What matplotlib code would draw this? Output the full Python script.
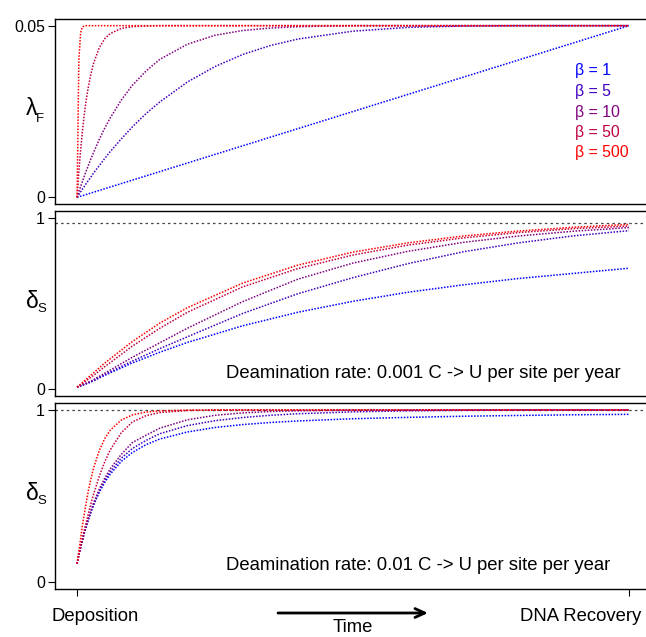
import matplotlib.pyplot as plt
from matplotlib.patches import FancyArrowPatch

plt.rcParams['font.family'] = ['Liberation Sans', 'DejaVu Sans']

# legend labels and colours (blue -> red ramp)
beta_labels = ['β = 1', 'β = 5', 'β = 10', 'β = 50', 'β = 500']
beta_colors = ['#0000FF', '#3F00BF', '#7F007F', '#BF003F', '#FF0000']

# time from deposition (0) to DNA recovery (1)
t_fine = [0, 0.0032, 0.0064, 0.0096, 0.0128, 0.016, 0.02, 0.025, 0.03, 0.04,
          0.05, 0.06, 0.08, 0.1, 0.125, 0.15, 0.2, 0.25, 0.3, 0.35, 0.4,
          0.5, 0.6, 0.7, 0.8, 0.9, 1.0]
t_mid = [0, 0.025, 0.05, 0.1, 0.15, 0.2, 0.3, 0.4, 0.5, 0.6, 0.7, 0.8, 0.9, 1.0]

# top panel: lambda_F
lam_b1 = [0, 0.00016, 0.00032, 0.00048, 0.00064, 0.0008, 0.001, 0.00125, 0.0015, 0.002,
          0.0025, 0.003, 0.004, 0.005, 0.00625, 0.0075, 0.01, 0.0125, 0.015, 0.0175, 0.02,
          0.025, 0.03, 0.035, 0.04, 0.045, 0.05]
lam_b5 = [0, 0.0008, 0.0016, 0.0024, 0.0031, 0.0039, 0.0048, 0.0059, 0.0071, 0.0092,
          0.0113, 0.0133, 0.0170, 0.0205, 0.0244, 0.0278, 0.0336, 0.0381, 0.0416, 0.0442, 0.0461,
          0.0484, 0.0495, 0.0499, 0.05, 0.05, 0.05]
lam_b10 = [0, 0.0016, 0.0031, 0.0046, 0.0060, 0.0075, 0.0091, 0.0112, 0.0131, 0.0168,
           0.0201, 0.0231, 0.0283, 0.0326, 0.0368, 0.0402, 0.0446, 0.0472, 0.0486, 0.0493, 0.0497,
           0.05, 0.05, 0.05, 0.05, 0.05, 0.05]
lam_b50 = [0, 0.0074, 0.0137, 0.0191, 0.0237, 0.0277, 0.0318, 0.0359, 0.0391, 0.0435,
           0.0462, 0.0477, 0.0492, 0.0497, 0.0499, 0.05, 0.05, 0.05, 0.05, 0.05, 0.05,
           0.05, 0.05, 0.05, 0.05, 0.05, 0.05]
lam_b500 = [0, 0.0399, 0.0480, 0.0496, 0.0499, 0.05, 0.05, 0.05, 0.05, 0.05,
            0.05, 0.05, 0.05, 0.05, 0.05, 0.05, 0.05, 0.05, 0.05, 0.05, 0.05,
            0.05, 0.05, 0.05, 0.05, 0.05, 0.05]

# middle panel: delta_S, deamination 0.001
mid_b1 = [0.011, 0.041, 0.080, 0.152, 0.215, 0.272, 0.369, 0.448, 0.512, 0.565, 0.608, 0.645, 0.675, 0.705]
mid_b5 = [0.011, 0.042, 0.084, 0.163, 0.236, 0.305, 0.441, 0.556, 0.650, 0.732, 0.801, 0.853, 0.894, 0.924]
mid_b10 = [0.011, 0.046, 0.092, 0.185, 0.270, 0.355, 0.510, 0.641, 0.735, 0.804, 0.856, 0.893, 0.921, 0.942]
mid_b50 = [0.011, 0.068, 0.130, 0.250, 0.355, 0.448, 0.596, 0.703, 0.782, 0.840, 0.882, 0.913, 0.936, 0.951]
mid_b500 = [0.011, 0.081, 0.151, 0.277, 0.385, 0.475, 0.618, 0.723, 0.799, 0.853, 0.893, 0.922, 0.944, 0.961]

# bottom panel: delta_S, deamination 0.01
bot_b1 = [0.106, 0.155, 0.199, 0.240, 0.279, 0.315, 0.357, 0.404, 0.447, 0.519,
          0.578, 0.626, 0.700, 0.752, 0.798, 0.831, 0.872, 0.898, 0.915, 0.927, 0.936,
          0.949, 0.957, 0.9635, 0.968, 0.972, 0.9745]
bot_b5 = [0.106, 0.154, 0.200, 0.241, 0.281, 0.317, 0.360, 0.408, 0.452, 0.527,
          0.589, 0.640, 0.719, 0.775, 0.823, 0.862, 0.909, 0.9375, 0.956, 0.969, 0.978,
          0.989, 0.995, 0.998, 0.9995, 1.0, 1.0]
bot_b10 = [0.106, 0.154, 0.200, 0.242, 0.282, 0.320, 0.363, 0.413, 0.459, 0.537,
           0.602, 0.657, 0.741, 0.810, 0.853, 0.894, 0.943, 0.969, 0.983, 0.991, 0.9955,
           0.999, 1.0, 1.0, 1.0, 1.0, 1.0]
bot_b50 = [0.106, 0.156, 0.203, 0.250, 0.296, 0.339, 0.391, 0.453, 0.510, 0.612,
           0.697, 0.767, 0.867, 0.930, 0.967, 0.985, 0.997, 0.9995, 1.0, 1.0, 1.0,
           1.0, 1.0, 1.0, 1.0, 1.0, 1.0]
bot_b500 = [0.106, 0.180, 0.250, 0.325, 0.390, 0.450, 0.522, 0.598, 0.663, 0.762,
            0.833, 0.882, 0.941, 0.971, 0.988, 0.995, 0.999, 1.0, 1.0, 1.0, 1.0,
            1.0, 1.0, 1.0, 1.0, 1.0, 1.0]

mid_limit = 0.97
bot_limit = 1.0

W, H = 646, 637


def fx(x):
    return x / W


def fy(y):
    return 1 - y / H


fig = plt.figure(figsize=(W / 100, H / 100), dpi=100)

# panel boxes in pixels (top, bottom); right edge runs off the figure
panels = [(18.8, 204.2), (210.8, 395.9), (403.1, 588.6)]
left_px, right_px = 55, 651
axes = []
for top, bot in panels:
    ax = fig.add_axes([fx(left_px), fy(bot), (right_px - left_px) / W, (bot - top) / H])
    ax.set_xlim(-0.04, 1.04)
    for s in ax.spines.values():
        s.set_linewidth(1.0)
    ax.tick_params(axis='y', direction='out', length=5.2, width=0.8, labelsize=11.4, pad=2)
    ax.set_xticks([])
    axes.append(ax)

ax1, ax2, ax3 = axes

# top panel
for vals, c in zip([lam_b1, lam_b5, lam_b10, lam_b50, lam_b500], beta_colors):
    ax1.plot(t_fine, vals, color=c, ls=(0, (1, 1)), lw=1.1)
ax1.set_ylim(-0.002, 0.052)
ax1.set_yticks([0, 0.05])
ax1.set_yticklabels(['0', '0.05'])

# middle panel
ax2.axhline(mid_limit, color='#444444', ls=(0, (2, 2.5)), lw=0.9)
for vals, c in zip([mid_b1, mid_b5, mid_b10, mid_b50, mid_b500], beta_colors):
    ax2.plot(t_mid, vals, color=c, ls=(0, (1, 1)), lw=1.1)
ax2.set_ylim(-0.04, 1.04)
ax2.set_yticks([0, 1])
ax2.set_yticklabels(['0', '1'])

# bottom panel
ax3.axhline(bot_limit, color='#444444', ls=(0, (2, 2.5)), lw=0.9)
for vals, c in zip([bot_b1, bot_b5, bot_b10, bot_b50, bot_b500], beta_colors):
    ax3.plot(t_fine, vals, color=c, ls=(0, (1, 1)), lw=1.1)
ax3.set_ylim(-0.04, 1.04)
ax3.set_yticks([0, 1])
ax3.set_yticklabels(['0', '1'])
ax3.set_xticks([0, 1])
ax3.set_xticklabels([])
ax3.tick_params(axis='x', direction='out', length=5.2, width=0.8)

# legend
for i, (lab, c) in enumerate(zip(beta_labels, beta_colors)):
    fig.text(fx(575), fy(71 + 20.5 * i), lab, color=c, fontsize=11.4, ha='left', va='center')

# y labels with subscripts
fig.text(fx(31.7), fy(108.7), 'λ', fontsize=16.5, ha='center', va='center')
fig.text(fx(40.3), fy(118.5), 'F', fontsize=9.5, ha='center', va='center')
for yc in (301.3, 493):
    fig.text(fx(32.2), fy(yc), 'δ', fontsize=16.5, ha='center', va='center')
    fig.text(fx(42.3), fy(yc + 7.5), 'S', fontsize=9.5, ha='center', va='center')

# deamination notes
fig.text(fx(226), fy(378.3), 'Deamination rate: 0.001 C -> U per site per year',
         fontsize=13.3, ha='left', va='baseline')
fig.text(fx(226), fy(570), 'Deamination rate: 0.01 C -> U per site per year',
         fontsize=13.3, ha='left', va='baseline')

# x-axis annotations
fig.text(fx(51.7), fy(621), 'Deposition', fontsize=13.3, ha='left', va='baseline')
fig.text(fx(641.7), fy(621), 'DNA Recovery', fontsize=13.3, ha='right', va='baseline')
fig.text(fx(353), fy(636.5), 'Time', fontsize=13.3, ha='center', va='bottom')
arrow = FancyArrowPatch((fx(278), fy(613)), (fx(428), fy(613)), transform=fig.transFigure,
                        arrowstyle='->,head_length=7,head_width=3.2', lw=2.0, color='black',
                        shrinkA=0, shrinkB=0)
fig.add_artist(arrow)

fig.savefig('out.png', dpi=100)
